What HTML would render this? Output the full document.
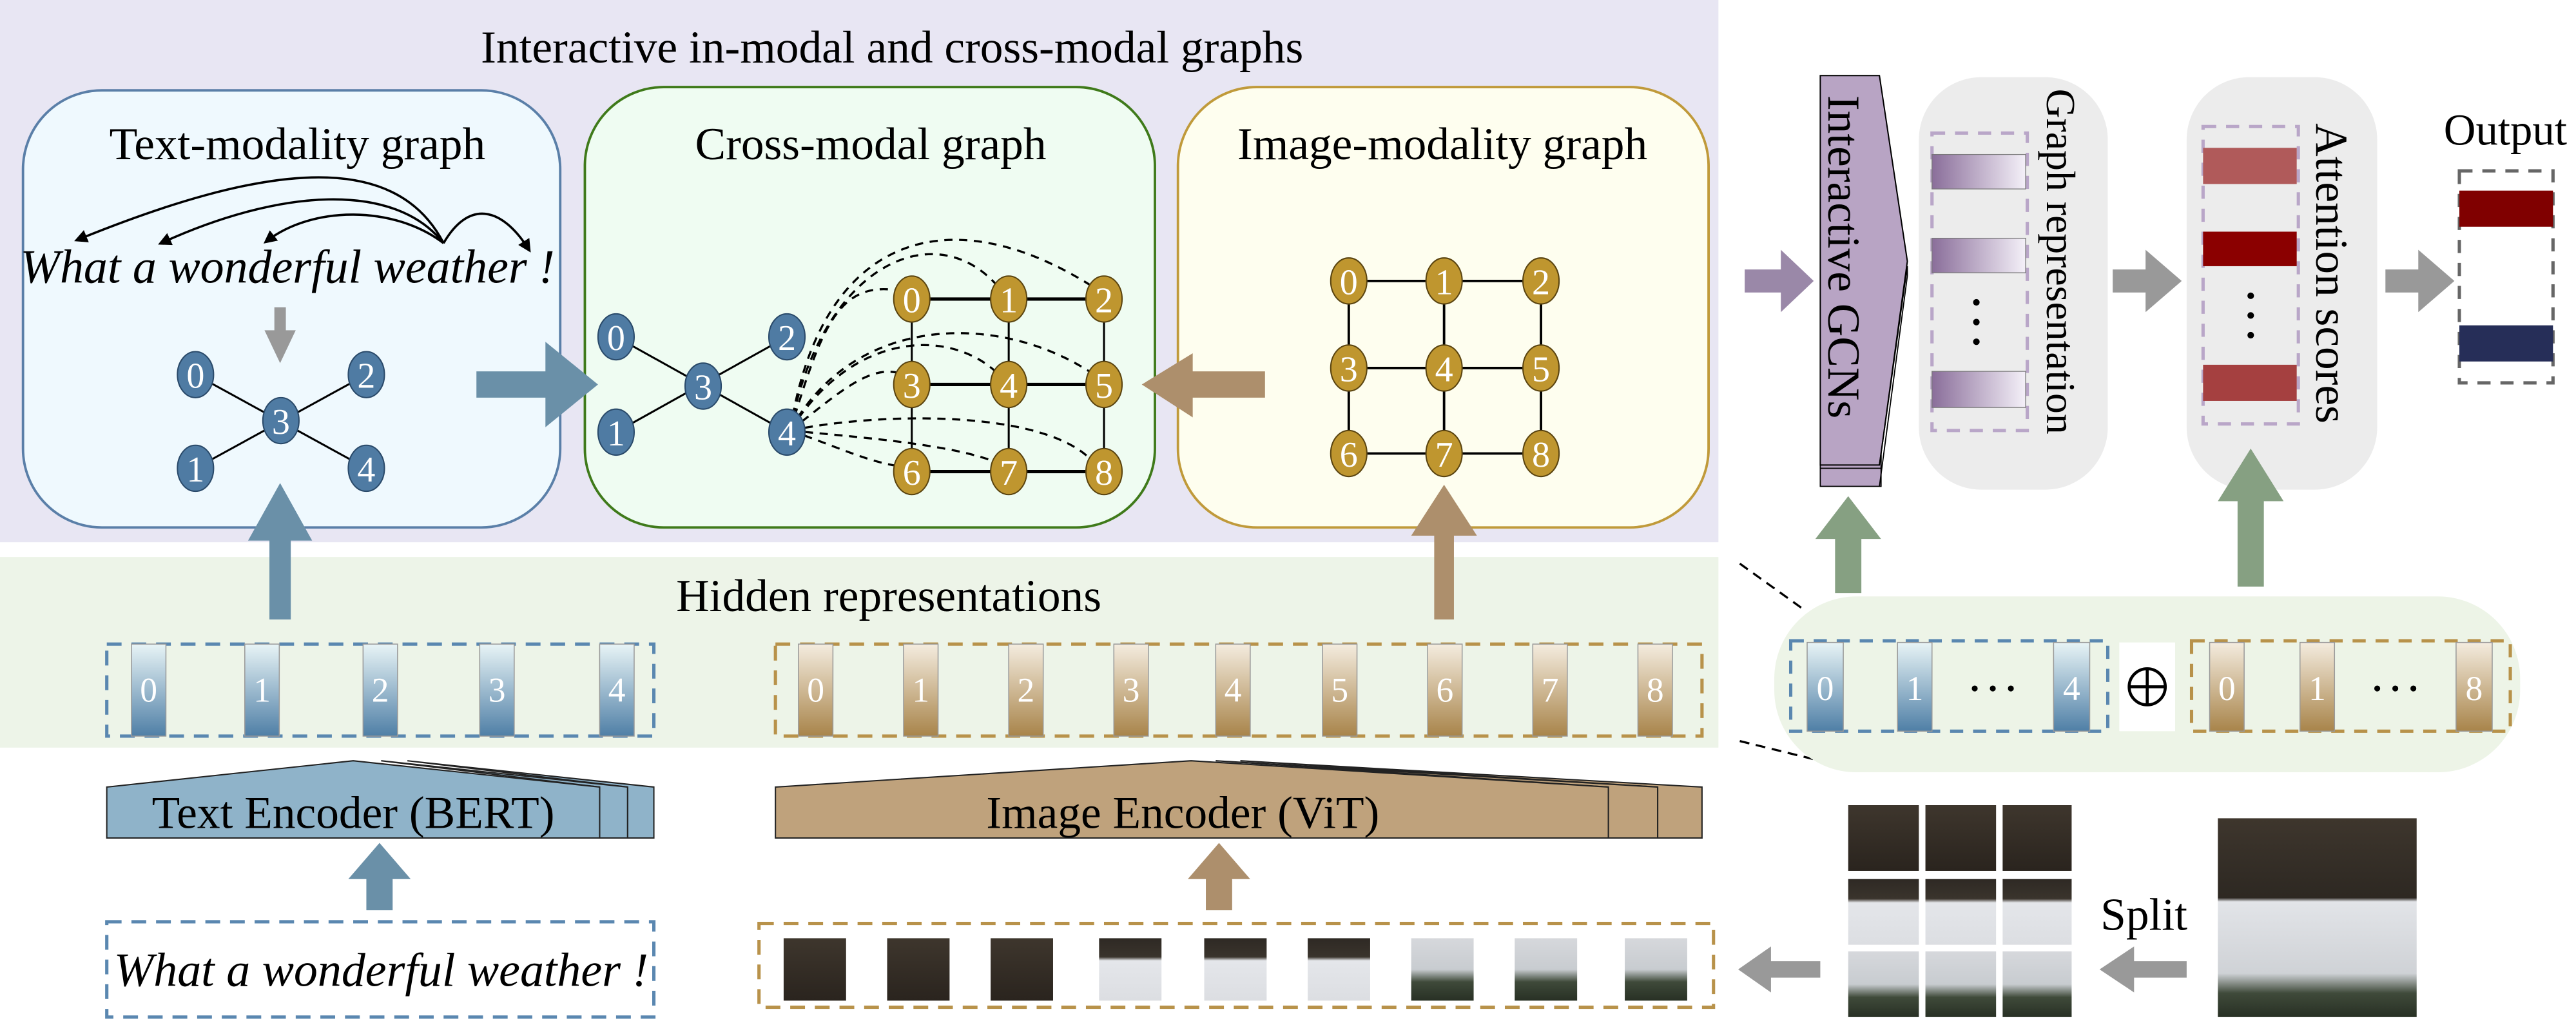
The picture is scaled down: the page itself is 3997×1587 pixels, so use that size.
<!DOCTYPE html>
<html><head><meta charset="utf-8"><style>
html,body{margin:0;padding:0;background:#fff;}
svg{display:block;}
text{font-family:"Liberation Serif",serif;}
</style></head><body>
<svg width="3997" height="1587" viewBox="0 0 1568 622.6" preserveAspectRatio="none" xmlns="http://www.w3.org/2000/svg">
<defs>
<linearGradient id="gb" x1="0" y1="0" x2="0" y2="1"><stop offset="0" stop-color="#e8f4f6"/><stop offset="1" stop-color="#4f7fa6"/></linearGradient>
<linearGradient id="gt" x1="0" y1="0" x2="0" y2="1"><stop offset="0" stop-color="#f4ecdf"/><stop offset="1" stop-color="#a8844a"/></linearGradient>
<linearGradient id="gp" x1="0" y1="0" x2="1" y2="0"><stop offset="0" stop-color="#8a6e9a"/><stop offset="1" stop-color="#f4f0f8"/></linearGradient>
<linearGradient id="imgA" x1="0" y1="0" x2="0" y2="1"><stop offset="0" stop-color="#3e362d"/><stop offset="1" stop-color="#2a241e"/></linearGradient>
<linearGradient id="imgB" x1="0" y1="0" x2="0" y2="1"><stop offset="0" stop-color="#2e2924"/><stop offset="0.3" stop-color="#3a342c"/><stop offset="0.36" stop-color="#e4e6ea"/><stop offset="1" stop-color="#dcdee2"/></linearGradient>
<linearGradient id="imgC" x1="0" y1="0" x2="0" y2="1"><stop offset="0" stop-color="#d6d8dc"/><stop offset="0.5" stop-color="#c8ccd0"/><stop offset="0.7" stop-color="#3f4a3a"/><stop offset="1" stop-color="#283024"/></linearGradient>
<linearGradient id="imgFull" x1="0" y1="0" x2="0" y2="1"><stop offset="0" stop-color="#3e362d"/><stop offset="0.4" stop-color="#2d2822"/><stop offset="0.42" stop-color="#e2e4e8"/><stop offset="0.78" stop-color="#cfd2d6"/><stop offset="0.88" stop-color="#3f4a3a"/><stop offset="1" stop-color="#283024"/></linearGradient>
<marker id="ah" markerWidth="8" markerHeight="8" refX="6" refY="4" orient="auto" markerUnits="userSpaceOnUse"><path d="M0,0 L8,4 L0,8 z" fill="#000"/></marker>
</defs>

<!-- backgrounds -->
<rect x="0" y="0" width="1046" height="330" fill="#e8e6f3"/>
<rect x="0" y="339" width="1046" height="116" fill="#edf4e8"/>
<text x="543" y="38" font-size="28" text-anchor="middle">Interactive in-modal and cross-modal graphs</text>

<!-- boxes -->
<rect x="14" y="55" width="327" height="266" rx="48" fill="#eff9fe" stroke="#5a7fa8" stroke-width="1.5"/>
<rect x="356" y="53" width="347" height="268" rx="48" fill="#effcf2" stroke="#3f7a1a" stroke-width="1.5"/>
<rect x="717" y="53" width="323" height="268" rx="48" fill="#fefeef" stroke="#c09a3a" stroke-width="1.5"/>
<text x="181" y="97" font-size="28" text-anchor="middle">Text-modality graph</text>
<text x="530" y="97" font-size="28" text-anchor="middle">Cross-modal graph</text>
<text x="878" y="97" font-size="28" text-anchor="middle">Image-modality graph</text>

<!-- text graph -->
<g fill="none" stroke="#000" stroke-width="1.4">
<path d="M270,148 C240,90 160,100 47,146" marker-end="url(#ah)"/>
<path d="M270,148 C240,110 170,115 98,148" marker-end="url(#ah)"/>
<path d="M270,148 C240,125 190,125 162,147" marker-end="url(#ah)"/>
<path d="M270,148 C285,122 305,125 322,152" marker-end="url(#ah)"/>
</g>
<text x="175" y="172" font-size="29" font-style="italic" text-anchor="middle">What a wonderful weather !</text>
<path d="M167,187 h7 v14 h6 l-9.5,20 l-9.5,-20 h6 z" fill="#999"/>
<g stroke="#000" stroke-width="1.2">
<line x1="119" y1="228" x2="223" y2="285"/><line x1="223" y1="228" x2="119" y2="285"/>
</g>
<g fill="#4f7ba3" stroke="#2a4a6a" stroke-width="0.8">
<ellipse cx="119" cy="228" rx="11" ry="14"/><ellipse cx="223" cy="228" rx="11" ry="14"/><ellipse cx="171" cy="256" rx="11" ry="14"/><ellipse cx="119" cy="285" rx="11" ry="14"/><ellipse cx="223" cy="285" rx="11" ry="14"/>
</g>
<g fill="#fff" font-size="22" text-anchor="middle">
<text x="119" y="236">0</text><text x="223" y="236">2</text><text x="171" y="264">3</text><text x="119" y="293">1</text><text x="223" y="293">4</text>
</g>

<!-- cross-modal graph -->
<g stroke="#000" stroke-width="1.2">
<line x1="375" y1="205" x2="479" y2="263"/><line x1="479" y1="205" x2="375" y2="263"/>
<line x1="555" y1="182" x2="672" y2="182" stroke-width="2"/><line x1="555" y1="234" x2="672" y2="234" stroke-width="2"/><line x1="555" y1="287" x2="672" y2="287" stroke-width="2"/>
<line x1="555" y1="182" x2="555" y2="287"/><line x1="614" y1="182" x2="614" y2="287"/><line x1="672" y1="182" x2="672" y2="287"/>
</g>
<g fill="none" stroke="#000" stroke-width="1.3" stroke-dasharray="5,4">
<path d="M481,262 C500,200 510,170 548,177"/>
<path d="M481,262 C500,160 570,130 608,175"/>
<path d="M481,262 C500,140 580,120 666,175"/>
<path d="M481,262 C510,240 530,220 550,228"/>
<path d="M481,262 C520,200 580,200 608,228"/>
<path d="M481,262 C520,190 610,190 666,228"/>
<path d="M481,262 C510,272 530,282 550,284"/>
<path d="M481,262 C520,266 580,270 608,282"/>
<path d="M481,262 C540,250 640,250 666,282"/>
</g>
<g fill="#4f7ba3" stroke="#2a4a6a" stroke-width="0.8">
<ellipse cx="375" cy="205" rx="11" ry="14"/><ellipse cx="479" cy="205" rx="11" ry="14"/><ellipse cx="428" cy="235" rx="11" ry="14"/><ellipse cx="375" cy="263" rx="11" ry="14"/><ellipse cx="479" cy="263" rx="11" ry="14"/>
</g>
<g fill="#fff" font-size="22" text-anchor="middle">
<text x="375" y="213">0</text><text x="479" y="213">2</text><text x="428" y="243">3</text><text x="375" y="271">1</text><text x="479" y="271">4</text>
</g>
<g fill="#bf962f" stroke="#5a4410" stroke-width="0.8">
<ellipse cx="555" cy="182" rx="11" ry="14"/><ellipse cx="614" cy="182" rx="11" ry="14"/><ellipse cx="672" cy="182" rx="11" ry="14"/>
<ellipse cx="555" cy="234" rx="11" ry="14"/><ellipse cx="614" cy="234" rx="11" ry="14"/><ellipse cx="672" cy="234" rx="11" ry="14"/>
<ellipse cx="555" cy="287" rx="11" ry="14"/><ellipse cx="614" cy="287" rx="11" ry="14"/><ellipse cx="672" cy="287" rx="11" ry="14"/>
</g>
<g fill="#fff" font-size="22" text-anchor="middle">
<text x="555" y="190">0</text><text x="614" y="190">1</text><text x="672" y="190">2</text>
<text x="555" y="242">3</text><text x="614" y="242">4</text><text x="672" y="242">5</text>
<text x="555" y="295">6</text><text x="614" y="295">7</text><text x="672" y="295">8</text>
</g>

<!-- image graph -->
<g stroke="#000" stroke-width="1.5">
<line x1="821" y1="171" x2="938" y2="171"/><line x1="821" y1="224" x2="938" y2="224"/><line x1="821" y1="276" x2="938" y2="276"/>
<line x1="821" y1="171" x2="821" y2="276"/><line x1="879" y1="171" x2="879" y2="276"/><line x1="938" y1="171" x2="938" y2="276"/>
</g>
<g fill="#bf962f" stroke="#5a4410" stroke-width="0.8">
<ellipse cx="821" cy="171" rx="11" ry="14"/><ellipse cx="879" cy="171" rx="11" ry="14"/><ellipse cx="938" cy="171" rx="11" ry="14"/>
<ellipse cx="821" cy="224" rx="11" ry="14"/><ellipse cx="879" cy="224" rx="11" ry="14"/><ellipse cx="938" cy="224" rx="11" ry="14"/>
<ellipse cx="821" cy="276" rx="11" ry="14"/><ellipse cx="879" cy="276" rx="11" ry="14"/><ellipse cx="938" cy="276" rx="11" ry="14"/>
</g>
<g fill="#fff" font-size="22" text-anchor="middle">
<text x="821" y="179">0</text><text x="879" y="179">1</text><text x="938" y="179">2</text>
<text x="821" y="232">3</text><text x="879" y="232">4</text><text x="938" y="232">5</text>
<text x="821" y="284">6</text><text x="879" y="284">7</text><text x="938" y="284">8</text>
</g>

<!-- big arrows -->
<path d="M290,226 h42 v-18 l32,26 l-32,26 v-18 h-42 z" fill="#6a90a8"/>
<path d="M770,226 h-44 v-11 l-31,19 l31,20 v-12 h44 z" fill="#ad8f6c"/>
<path d="M164,377 v-48 h-13 l19.5,-35 l19.5,35 h-13 v48 z" fill="#6a90a8"/>
<path d="M873,377 v-51 h-14 l20,-31 l20,31 h-14 v51 z" fill="#ad8f6c"/>

<!-- hidden reps -->
<text x="541" y="372" font-size="28" text-anchor="middle">Hidden representations</text>
<rect x="65" y="392" width="333" height="56" fill="none" stroke="#5a87b0" stroke-width="2" stroke-dasharray="9,6"/>
<g fill="url(#gb)" stroke="#999" stroke-width="0.6">
<rect x="80" y="392" width="21" height="56"/><rect x="149" y="392" width="21" height="56"/><rect x="221" y="392" width="21" height="56"/><rect x="292" y="392" width="21" height="56"/><rect x="365" y="392" width="21" height="56"/>
</g>
<g fill="#fff" font-size="21" text-anchor="middle">
<text x="90.5" y="427">0</text><text x="159.5" y="427">1</text><text x="231.5" y="427">2</text><text x="302.5" y="427">3</text><text x="375.5" y="427">4</text>
</g>
<rect x="472" y="392" width="564" height="56" fill="none" stroke="#b8924a" stroke-width="2" stroke-dasharray="9,6"/>
<g fill="url(#gt)" stroke="#999" stroke-width="0.6">
<rect x="486" y="392" width="21" height="56"/><rect x="550" y="392" width="21" height="56"/><rect x="614" y="392" width="21" height="56"/><rect x="678" y="392" width="21" height="56"/><rect x="740" y="392" width="21" height="56"/><rect x="805" y="392" width="21" height="56"/><rect x="869" y="392" width="21" height="56"/><rect x="933" y="392" width="21" height="56"/><rect x="997" y="392" width="21" height="56"/>
</g>
<g fill="#fff" font-size="21" text-anchor="middle">
<text x="496.5" y="427">0</text><text x="560.5" y="427">1</text><text x="624.5" y="427">2</text><text x="688.5" y="427">3</text><text x="750.5" y="427">4</text><text x="815.5" y="427">5</text><text x="879.5" y="427">6</text><text x="943.5" y="427">7</text><text x="1007.5" y="427">8</text>
</g>

<!-- encoders -->
<g stroke="#222" stroke-width="0.8">
<path d="M248,463 L398,479 V510 H382 V479 z" fill="#8fb3c9"/>
<path d="M232,463 L382,479 V510 H365 V479 z" fill="#8fb3c9"/>
<path d="M65,479 L215,463 L365,479 V510 H65 z" fill="#8fb3c9"/>
<path d="M755,463 L1036,479 V510 H1009 V479 z" fill="#bfa27c"/>
<path d="M740,463 L1009,479 V510 H979 V479 z" fill="#bfa27c"/>
<path d="M472,479 L725,463 L979,479 V510 H472 z" fill="#bfa27c"/>
</g>
<text x="215" y="504" font-size="28" text-anchor="middle">Text Encoder (BERT)</text>
<text x="720" y="504" font-size="28" text-anchor="middle">Image Encoder (ViT)</text>
<path d="M223,554 v-19 h-11 l19,-22 l19,22 h-11 v19 z" fill="#6a90a8"/>
<path d="M734,554 v-19 h-11 l19,-22 l19,22 h-11 v19 z" fill="#ad8f6c"/>

<!-- bottom inputs -->
<rect x="65" y="561" width="333" height="58" fill="none" stroke="#5a87b0" stroke-width="2" stroke-dasharray="9,6"/>
<text x="232" y="600" font-size="29" font-style="italic" text-anchor="middle">What a wonderful weather !</text>
<rect x="462" y="562" width="581" height="51" fill="none" stroke="#b8924a" stroke-width="2" stroke-dasharray="9,6"/>
<rect x="477" y="571" width="38" height="38" fill="url(#imgA)"/>
<rect x="540" y="571" width="38" height="38" fill="url(#imgA)"/>
<rect x="603" y="571" width="38" height="38" fill="url(#imgA)"/>
<rect x="669" y="571" width="38" height="38" fill="url(#imgB)"/>
<rect x="733" y="571" width="38" height="38" fill="url(#imgB)"/>
<rect x="796" y="571" width="38" height="38" fill="url(#imgB)"/>
<rect x="859" y="571" width="38" height="38" fill="url(#imgC)"/>
<rect x="922" y="571" width="38" height="38" fill="url(#imgC)"/>
<rect x="989" y="571" width="38" height="38" fill="url(#imgC)"/>

<!-- right side -->
<path d="M1062,164 h22 v-12 l20,19 l-20,19 v-12 h-22 z" fill="#9a88a8"/>
<rect x="1108" y="56" width="37" height="240" fill="#b8a4c4" stroke="#000" stroke-width="0.7"/>
<rect x="1108" y="56" width="37" height="229" fill="#b8a4c4" stroke="#000" stroke-width="0.7"/>
<path d="M1108,46 H1144 L1161,159 L1144,283 H1108 z" fill="#b8a4c4" stroke="#000" stroke-width="0.8"/>
<path d="M1144,283 L1161,162 L1161,168 L1144,296" fill="none" stroke="#000" stroke-width="0.7"/>
<text transform="translate(1113,58) rotate(90)" font-size="28">Interactive GCNs</text>

<rect x="1168" y="47" width="115" height="251" rx="38" fill="#ececec"/>
<rect x="1176" y="81" width="58" height="181" fill="none" stroke="#b9a6c8" stroke-width="2" stroke-dasharray="8,6"/>
<rect x="1176" y="94" width="57" height="21" fill="url(#gp)" stroke="#777" stroke-width="0.5"/>
<rect x="1176" y="145" width="57" height="21" fill="url(#gp)" stroke="#777" stroke-width="0.5"/>
<rect x="1176" y="226" width="57" height="22" fill="url(#gp)" stroke="#777" stroke-width="0.5"/>
<g fill="#000"><circle cx="1203" cy="184" r="2"/><circle cx="1203" cy="196" r="2"/><circle cx="1203" cy="208" r="2"/></g>
<text transform="translate(1246,54) rotate(90)" font-size="25">Graph representation</text>

<path d="M1286,164 h20 v-12 l22,19 l-22,19 v-12 h-20 z" fill="#999"/>

<rect x="1331" y="47" width="116" height="251" rx="38" fill="#ececec"/>
<rect x="1341" y="77" width="58" height="181" fill="none" stroke="#b9a6c8" stroke-width="2" stroke-dasharray="8,6"/>
<rect x="1341" y="90" width="57" height="22" fill="#b05a5a"/>
<rect x="1341" y="141" width="57" height="21" fill="#8b0000"/>
<rect x="1341" y="222" width="57" height="22" fill="#a54040"/>
<g fill="#000"><circle cx="1370" cy="180" r="2"/><circle cx="1370" cy="192" r="2"/><circle cx="1370" cy="204" r="2"/></g>
<text transform="translate(1410,75) rotate(90)" font-size="28">Attention scores</text>

<path d="M1452,164 h20 v-12 l22,19 l-22,19 v-12 h-20 z" fill="#999"/>
<text x="1525" y="88" font-size="27" text-anchor="middle">Output</text>
<rect x="1497" y="104" width="57" height="129" fill="none" stroke="#666" stroke-width="2" stroke-dasharray="8,6"/>
<rect x="1497" y="116" width="57" height="22" fill="#800000"/>
<rect x="1497" y="198" width="57" height="22" fill="#262e58"/>

<!-- green arrows -->
<path d="M1117,361 v-33 h-12 l20,-26 l20,26 h-12 v33 z" fill="#86a082"/>
<path d="M1362,357 v-52 h-12 l20,-32 l20,32 h-12 v52 z" fill="#86a082"/>

<!-- combined reps -->
<line x1="1059" y1="343" x2="1098" y2="371" stroke="#000" stroke-width="1.3" stroke-dasharray="6,4"/>
<line x1="1059" y1="451" x2="1116" y2="465" stroke="#000" stroke-width="1.3" stroke-dasharray="6,4"/>
<rect x="1080" y="363" width="454" height="107" rx="50" fill="#edf4e7"/>
<rect x="1090" y="390" width="193" height="55" fill="none" stroke="#5a87b0" stroke-width="2" stroke-dasharray="8,6"/>
<g fill="url(#gb)" stroke="#999" stroke-width="0.6">
<rect x="1100" y="391" width="22" height="54"/><rect x="1155" y="391" width="21" height="54"/><rect x="1250" y="391" width="22" height="54"/>
</g>
<g fill="#fff" font-size="21" text-anchor="middle"><text x="1111" y="426">0</text><text x="1165.5" y="426">1</text><text x="1261" y="426">4</text></g>
<g fill="#000"><circle cx="1202" cy="419" r="1.8"/><circle cx="1213" cy="419" r="1.8"/><circle cx="1224" cy="419" r="1.8"/></g>
<rect x="1290" y="391" width="34" height="54" fill="#fff"/>
<circle cx="1307" cy="418" r="11" fill="none" stroke="#000" stroke-width="1.8"/>
<line x1="1296" y1="418" x2="1318" y2="418" stroke="#000" stroke-width="1.8"/><line x1="1307" y1="407" x2="1307" y2="429" stroke="#000" stroke-width="1.8"/>
<rect x="1334" y="390" width="194" height="55" fill="none" stroke="#b8924a" stroke-width="2" stroke-dasharray="8,6"/>
<g fill="url(#gt)" stroke="#999" stroke-width="0.6">
<rect x="1345" y="391" width="21" height="54"/><rect x="1400" y="391" width="21" height="54"/><rect x="1495" y="391" width="22" height="54"/>
</g>
<g fill="#fff" font-size="21" text-anchor="middle"><text x="1355.5" y="426">0</text><text x="1410.5" y="426">1</text><text x="1506" y="426">8</text></g>
<g fill="#000"><circle cx="1447" cy="419" r="1.8"/><circle cx="1458" cy="419" r="1.8"/><circle cx="1469" cy="419" r="1.8"/></g>

<!-- split images -->
<rect x="1125" y="490" width="43" height="40" fill="url(#imgA)"/>
<rect x="1172" y="490" width="43" height="40" fill="url(#imgA)"/>
<rect x="1219" y="490" width="42" height="40" fill="url(#imgA)"/>
<rect x="1125" y="535" width="43" height="40" fill="url(#imgB)"/>
<rect x="1172" y="535" width="43" height="40" fill="url(#imgB)"/>
<rect x="1219" y="535" width="42" height="40" fill="url(#imgB)"/>
<rect x="1125" y="579" width="43" height="40" fill="url(#imgC)"/>
<rect x="1172" y="579" width="43" height="40" fill="url(#imgC)"/>
<rect x="1219" y="579" width="42" height="40" fill="url(#imgC)"/>
<rect x="1350" y="498" width="121" height="121" fill="url(#imgFull)"/>
<text x="1305" y="566" font-size="28" text-anchor="middle">Split</text>
<path d="M1331,585 h-32 v-9 l-21,14 l21,14 v-9 h32 z" fill="#999"/>
<path d="M1108,585 h-30 v-9 l-20,14 l20,14 v-9 h30 z" fill="#999"/>
</svg>
</body></html>
